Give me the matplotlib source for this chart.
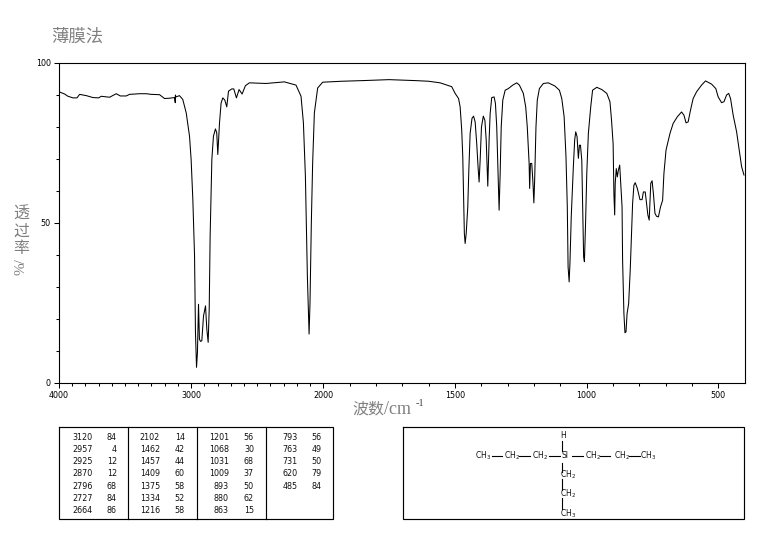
import numpy as np
import matplotlib
matplotlib.use("Agg")
import matplotlib.pyplot as plt

wavenumber = [4000,3957,3932,3894,3864,3844,3793,3743,3700,3680,3617,3567,3536,3491,3466,3390,3340,3302,3239,3201,3163,3125,3120,3119,3115,3088,3063,3037,3012,3000,2987,2974,2967,2959,2952,2944,2937,2929,2919,2906,2891,2881,2871,2863,2856,2843,2831,2816,2806,2798,2785,2773,2760,2745,2730,2717,2692,2677,2657,2637,2614,2589,2559,2433,2294,2206,2168,2150,2135,2120,2107,2100,2090,2080,2067,2042,2004,1929,1850,1750,1650,1600,
              1556,1512,1499,1486,1480,1474,1470,1467,1464,1461,1457,1451,1447,1442,1435,1429,1423,1417,1412,1408,1404,1399,1392,1386,1381,1375,1370,1366,1360,1351,1346,1341,1336,1332,1328,1324,1318,1309,1297,1280,1265,1255,1240,1231,1225,1218,1216,1213,1208,1204,1200,1197,1192,1187,1179,1164,1145,1120,1103,1094,1085,1078,1073,1070,1066,1063,1058,1050,1045,1041,1036,1031,1027,1023,1018,1015,1011,1008,1004,999,993,984,977,961,942,923,911,905,899,896,893,891,887,883,879,874,870,865,863,858,854,850,846,840,834,829,825,820,815,807,797,789,784,777,772,767,762,756,751,746,740,734,727,719,711,706,698,683,671,655,639,630,622,614,605,595,582,563,548,525,509,500,487,478,468,460,453,443,430,420,411,402]
transmittance = [91,90.3,89.6,89.1,89.1,90.2,89.8,89.2,89.1,89.6,89.3,90.4,89.7,89.7,90.2,90.4,90.4,90.2,90.1,88.9,89,89.2,87.6,90,89.4,89.8,88.6,84.4,77.1,69.9,57.4,39.7,15.8,4.9,9.6,24.6,13.7,13,13.2,21,24.1,16.8,12.7,23.1,45.9,69.9,77.1,79.4,78.2,71.4,81.3,87.5,89.1,88.4,86.3,91.2,91.9,91.9,89.1,91.7,90.3,92.9,93.8,93.6,94.1,93.1,89.6,81.3,64.7,33.5,15.3,25.2,50.1,68.8,84.4,92.2,94,94.3,94.5,94.8,94.5,94.3,
                 93.8,92.6,90.5,88.9,86.3,79,70.7,58.2,46.7,43.6,46.7,55,66.5,78,82.7,83.4,81.6,74.8,67.6,62.8,69.6,80,83.4,82.1,75.9,61.5,75.9,84.2,89.2,89.4,87.4,80,65.5,54,65.5,80,88.4,91.5,92,93.1,93.8,93.1,90.5,86.3,80,68.6,60.8,68.6,68.6,63.4,56.3,63.4,80,88.4,92,93.6,93.8,92.8,91.5,88.9,83.2,70.7,55,36.3,31.6,37.3,52,67.6,75.9,78.5,77,70.2,74.3,74.3,69.6,57.1,39.4,37.9,48.8,65.5,78,86.3,91.5,92.4,91.7,90.5,87.9,82.1,74.8,59.2,52.5,62.4,67,64.4,66.5,68.1,62.4,55,38.4,21.7,15.7,16,21.7,24.8,35.3,46.7,56.1,61.8,62.6,60.8,57.3,57.3,59.7,59.7,56.1,52.5,50.9,62.4,63.2,59.2,53,52.1,51.9,55,57.1,65.5,72.8,78,81.1,83.2,84.7,83.7,81.3,81.6,85.3,88.9,91,93.1,94.4,93.4,92,89.4,87.6,87.9,90,90.5,88.9,83.7,78.5,72.8,67.6,65]

x_major = [4000,3000,2000,1500,1000,500]
x_minor = [w for w in range(3900,400,-100) if w not in x_major]
y_major = [0,50,100]
y_minor = [10,20,30,40,60,70,80,90]

peak_cols = [
    [("3120",84),("2957",4),("2925",12),("2870",12),("2796",68),("2727",84),("2664",86)],
    [("2102",14),("1462",42),("1457",44),("1409",60),("1375",58),("1334",52),("1216",58)],
    [("1201",56),("1068",30),("1031",68),("1009",37),("893",50),("880",62),("863",15)],
    [("793",56),("763",49),("731",50),("620",79),("485",84)],
]

fig = plt.figure(figsize=(7.65,5.39), dpi=100, facecolor="white")
W, H = 765, 539
L, R, T, B = 59, 744.5, 63, 383
ax = fig.add_axes([L/W, 1-B/H, (R-L)/W, (B-T)/H])

def fwd(w):
    w = np.asarray(w, dtype=float)
    return np.where(w >= 2000, w-4000, (w-2000)*1.993-2000)
def inv(p):
    p = np.asarray(p, dtype=float)
    return np.where(p >= -2000, p+4000, (p+2000)/1.993+2000)
ax.set_xscale("function", functions=(fwd, inv))
ax.plot(wavenumber, transmittance, color="black", lw=0.75)
ax.set_xlim(4000,400)
ax.set_ylim(0,100)
ax.set_xticks(x_major)
ax.set_xticks(x_minor, minor=True)
ax.set_yticks(y_major)
ax.set_yticks(y_minor, minor=True)
ax.tick_params(which="major", length=3.6, width=0.75, labelsize=5.8, pad=2.2, color="black")
ax.tick_params(which="minor", length=2, width=0.75)
for s in ax.spines.values():
    s.set_linewidth(0.8)

ov = fig.add_axes([0,0,1,1], facecolor="none")
ov.set_xlim(0,W); ov.set_ylim(H,0); ov.axis("off")

GREY = "#808080"
CJK = ["Noto Sans CJK SC","DejaVu Sans"]
ov.text(51,36.5,"薄膜法",family=CJK,fontsize=12.5,color=GREY,ha="left",va="center")
for ch,y in zip("透过率",[214,231,248]):
    ov.text(21,y,ch,family=CJK,fontsize=11.5,color=GREY,ha="center",va="center")
ov.text(21,267,"%/",family="Liberation Serif",fontsize=11,color=GREY,rotation=90,ha="center",va="center")
ov.text(352,409,"波数",family=CJK,fontsize=11.5,color=GREY,ha="left",va="center")
ov.text(384,409,"/cm",family="Liberation Serif",fontsize=13,color=GREY,ha="left",va="center")
ov.text(416,404,"-1",family="Liberation Serif",fontsize=7.5,color="#444444",ha="left",va="center")

def box(x0,y0,x1,y1):
    ov.plot([x0,x1,x1,x0,x0],[y0,y0,y1,y1,y0],color="black",lw=0.85,solid_joinstyle="miter")
box(59,427,333,519)
box(403,427,744,519)
for x in [128,197,266]:
    ov.plot([x,x],[427,519],color="black",lw=0.85)
col_w = [92.7,160,229,298]
col_v = [117,185,254,322]
for cx,vx,col in zip(col_w,col_v,peak_cols):
    for i,(w,v) in enumerate(col):
        y = 437+12.3*i
        ov.text(cx,y,w,fontsize=5.8,ha="right",va="center",color="#111111")
        ov.text(vx,y,str(v),fontsize=5.8,ha="right",va="center",color="#111111")

chain = [(483,456,r"CH$_3$"),(512,456,r"CH$_2$"),(540,456,r"CH$_2$"),(565,456,"SI"),
         (593,456,r"CH$_2$"),(622,456,r"CH$_2$"),(648,456,r"CH$_3$"),(563,436,"H"),
         (568,475,r"CH$_2$"),(568,494,r"CH$_2$"),(568,514,r"CH$_3$")]
for x,y,s in chain:
    ov.text(x,y,s,fontsize=5.5,ha="center",va="center",color="#111111")
for x0,x1 in [(492,502),(519,530),(549,560),(572,583),(600,610),(629,640)]:
    ov.plot([x0,x1],[456,456],color="black",lw=0.8)
for y0,y1 in [(441,451),(463,472),(479,490),(498,509)]:
    ov.plot([562,562],[y0,y1],color="black",lw=0.8)

fig.savefig("out.png", dpi=100, facecolor="white")
